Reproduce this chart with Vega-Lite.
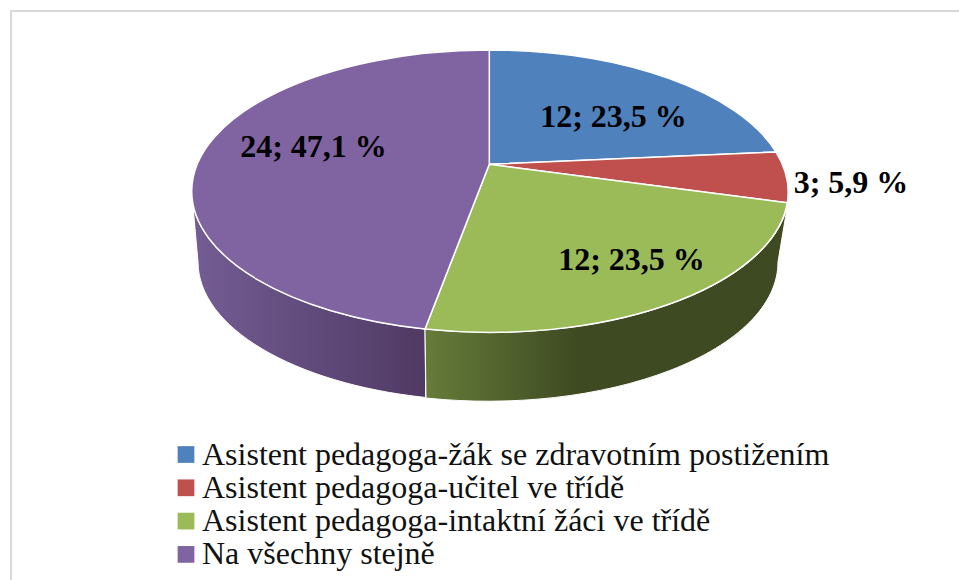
{
"$schema":"https://vega.github.io/schema/vega-lite/v6.json",
"autosize":{"type":"none"},
"width":950,"height":571,
"padding":{"left":11,"top":11,"right":-2,"bottom":-2},
"background":"white",
"view":{"stroke":"#d9d9d9","strokeWidth":2,"fill":"white"},
"config":{"view":{"stroke":"#d9d9d9","strokeWidth":2}},
"data":{"values":[
{"poradi":1,"kategorie":"Asistent pedagoga-žák se zdravotním postižením","pocet":12,"podil":23.5,"popisek":"12; 23,5 %"},
{"poradi":2,"kategorie":"Asistent pedagoga-učitel ve třídě","pocet":3,"podil":5.9,"popisek":"3; 5,9 %"},
{"poradi":3,"kategorie":"Asistent pedagoga-intaktní žáci ve třídě","pocet":12,"podil":23.5,"popisek":"12; 23,5 %"},
{"poradi":4,"kategorie":"Na všechny stejně","pocet":24,"podil":47.1,"popisek":"24; 47,1 %"}
]},
"layer":[
{"transform":[{"filter":"datum.poradi===4"}],
"mark":{"type":"point","filled":true,"opacity":1,"size":4,"stroke":"white","strokeWidth":1,
"shape":"M-294.3 -105.2L-288 -34.5A290 139 0 0 0 -60.3 101L-61 32.5A298.3 141.3 0 0 1 -294.3 -105.2Z",
"fill":{"gradient":"linear","x1":0,"y1":0,"x2":1,"y2":0,"stops":[{"offset":0,"color":"#735d94"},{"offset":0.5,"color":"#614b7c"},{"offset":1,"color":"#503a63"}]}},
"encoding":{}},
{"transform":[{"filter":"datum.poradi===3"}],
"mark":{"type":"point","filled":true,"opacity":1,"size":4,"stroke":"white","strokeWidth":1,
"shape":"M-61 32.5L-60 101.5A290 139 0 0 0 292 -34.5L301.5 -91.5A298.3 141.3 0 0 1 -61 32.5Z",
"fill":{"gradient":"linear","x1":0,"y1":0,"x2":1,"y2":0,"stops":[{"offset":0,"color":"#667c39"},{"offset":0.42,"color":"#3e4a22"},{"offset":1,"color":"#3e4a22"}]}},
"encoding":{}},
{"mark":{"type":"point","filled":true,"opacity":1,"size":4,"stroke":"white","strokeWidth":1.5},
"encoding":{
"color":{"field":"kategorie","type":"nominal","sort":null,
"scale":{"domain":["Asistent pedagoga-žák se zdravotním postižením","Asistent pedagoga-učitel ve třídě","Asistent pedagoga-intaktní žáci ve třídě","Na všechny stejně"],"range":["#4f81bd","#c0504d","#9bbb59","#8064a2"]},
"legend":{"orient":"none","legendX":159,"legendY":427.5,"title":null,"symbolType":"square","symbolSize":280,"symbolOpacity":1,"symbolStrokeWidth":0,"labelFont":"Liberation Serif","labelFontSize":32,"labelColor":"#111111","labelLimit":800,"labelOffset":0,"rowPadding":1.3,"padding":0}},
"shape":{"field":"poradi","type":"nominal","legend":null,
"scale":{"domain":[1,2,3,4],
"range":["M3.3 -132.2L3.3 -246.5A298.3 141.3 0 0 1 290 -144.5Z","M3.3 -132.2L290 -144.5A298.3 141.3 0 0 1 301.3 -93.7Z","M3.3 -132.2L301.3 -93.7A298.3 141.3 0 0 1 -61 32.5Z","M3.3 -132.2L-61 32.5A298.3 141.3 0 0 1 -294.3 -105.2A298.3 141.3 0 0 1 3.3 -246.5Z"]}}
}},
{"transform":[{"filter":"datum.poradi===1"}],
"mark":{"type":"text","font":"Liberation Serif","fontWeight":"bold","fontSize":32,"color":"black","dx":127.5,"dy":-180,"baseline":"middle"},
"encoding":{"text":{"field":"popisek","type":"nominal"}}},
{"transform":[{"filter":"datum.poradi===2"}],
"mark":{"type":"text","font":"Liberation Serif","fontWeight":"bold","fontSize":32,"color":"black","dx":365,"dy":-114,"baseline":"middle"},
"encoding":{"text":{"field":"popisek","type":"nominal"}}},
{"transform":[{"filter":"datum.poradi===3"}],
"mark":{"type":"text","font":"Liberation Serif","fontWeight":"bold","fontSize":32,"color":"black","dx":145.5,"dy":-37,"baseline":"middle"},
"encoding":{"text":{"field":"popisek","type":"nominal"}}},
{"transform":[{"filter":"datum.poradi===4"}],
"mark":{"type":"text","font":"Liberation Serif","fontWeight":"bold","fontSize":32,"color":"black","dx":-172.5,"dy":-150,"baseline":"middle"},
"encoding":{"text":{"field":"popisek","type":"nominal"}}}
]
}
